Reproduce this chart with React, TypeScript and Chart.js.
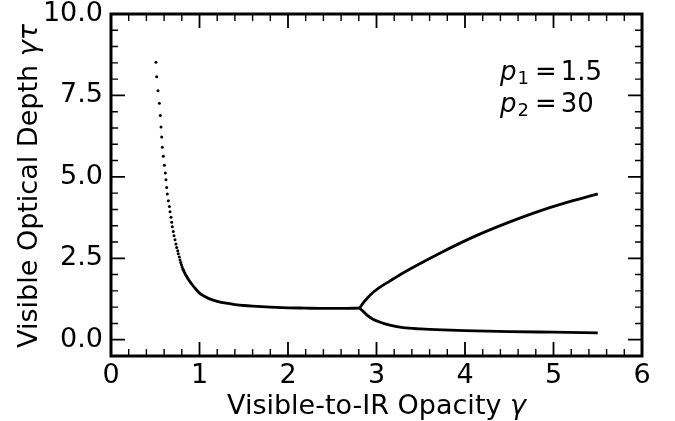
import React, { useEffect, useRef } from "react";
import { Chart, registerables } from "chart.js";

Chart.register(...registerables);

// ---- data ----
// leftmost branch, where individual samples are visible as dots
const sparseGamma = [0.508, 0.516, 0.531, 0.546, 0.557, 0.565, 0.573, 0.580, 0.591, 0.603, 0.614, 0.621, 0.629, 0.636, 0.648, 0.660, 0.667, 0.678, 0.686, 0.693, 0.704, 0.712, 0.723, 0.734, 0.742, 0.754, 0.760, 0.772, 0.780, 0.788, 0.796, 0.804, 0.812];
const sparseDepth = [8.52, 8.07, 7.64, 7.26, 6.88, 6.53, 6.22, 5.91, 5.63, 5.36, 5.12, 4.91, 4.67, 4.47, 4.27, 4.09, 3.93, 3.76, 3.61, 3.47, 3.32, 3.19, 3.07, 2.94, 2.83, 2.73, 2.64, 2.54, 2.45, 2.37, 2.30, 2.23, 2.17];

// dense single branch
const mainGamma = [0.812, 0.825, 0.84, 0.855, 0.87, 0.89, 0.92, 0.96, 1.00, 1.05, 1.10, 1.20, 1.30, 1.40, 1.50, 1.60, 1.80, 2.00, 2.20, 2.40, 2.60, 2.81];
const mainDepth = [2.17, 2.09, 2.01, 1.94, 1.87, 1.79, 1.68, 1.55, 1.43, 1.34, 1.27, 1.18, 1.12, 1.08, 1.05, 1.03, 1.00, 0.98, 0.97, 0.96, 0.96, 0.97];

// upper branch after bifurcation
const upperGamma = [2.81, 2.85, 2.90, 2.96, 3.05, 3.15, 3.30, 3.50, 3.71, 4.09, 4.47, 4.84, 5.22, 5.50];
const upperDepth = [0.97, 1.13, 1.29, 1.45, 1.63, 1.80, 2.05, 2.35, 2.65, 3.15, 3.58, 3.95, 4.27, 4.48];

// lower branch after bifurcation
const lowerGamma = [2.81, 2.85, 2.90, 2.96, 3.05, 3.15, 3.30, 3.50, 3.75, 4.00, 4.50, 5.00, 5.50];
const lowerDepth = [0.97, 0.87, 0.74, 0.63, 0.53, 0.45, 0.37, 0.33, 0.30, 0.28, 0.25, 0.23, 0.21];

// axes
const xTickValues = [0, 1, 2, 3, 4, 5, 6];
const yTickValues = [0, 2.5, 5, 7.5, 10];
const xMin = 0, xMax = 6, yMin = -0.5, yMax = 10;
const xMinorStep = 0.2;
const yMinorStep = 0.5;

const xTitleText = "Visible-to-IR Opacity ";
const xTitleSymbol = "γ";
const yTitleText = "Visible Optical Depth ";
const yTitleSymbol = "γτ";

const annotationRows = [
  { symbol: "p", sub: "1", value: "1.5" },
  { symbol: "p", sub: "2", value: "30" },
];

const FAMILY = "'DejaVu Sans', sans-serif";
const TICK_SIZE = 27;
const TITLE_SIZE = 27;
const NOTE_SIZE = 26;

function pts(xs: number[], ys: number[]) {
  return xs.map((x, i) => ({ x, y: ys[i] }));
}

type Seg = { text: string; font: string; dy?: number; gap?: number };

function segWidth(ctx: CanvasRenderingContext2D, segs: Seg[]) {
  let w = 0;
  for (const s of segs) {
    ctx.font = s.font;
    w += ctx.measureText(s.text).width + (s.gap || 0);
  }
  return w;
}

function drawSegs(ctx: CanvasRenderingContext2D, segs: Seg[], x: number, y: number) {
  let cx = x;
  for (const s of segs) {
    ctx.font = s.font;
    ctx.fillText(s.text, cx, y + (s.dy || 0));
    cx += ctx.measureText(s.text).width + (s.gap || 0);
  }
}

const decorPlugin = {
  id: "decor",
  afterDraw(chart: any) {
    const ctx: CanvasRenderingContext2D = chart.ctx;
    const area = chart.chartArea;
    const xs = chart.scales.x;
    const ys = chart.scales.y;
    ctx.save();
    ctx.strokeStyle = "#000";
    ctx.fillStyle = "#000";

    // ticks (inward, all four sides)
    const majorLen = 14, minorLen = 7;
    ctx.lineWidth = 1.8;
    ctx.beginPath();
    for (const t of xs.ticks) {
      const p = xs.getPixelForValue(t.value);
      ctx.moveTo(p, area.bottom); ctx.lineTo(p, area.bottom - majorLen);
      ctx.moveTo(p, area.top); ctx.lineTo(p, area.top + majorLen);
    }
    for (const t of ys.ticks) {
      const p = ys.getPixelForValue(t.value);
      ctx.moveTo(area.left, p); ctx.lineTo(area.left + majorLen, p);
      ctx.moveTo(area.right, p); ctx.lineTo(area.right - majorLen, p);
    }
    ctx.stroke();
    ctx.lineWidth = 1.4;
    ctx.beginPath();
    const nx = Math.round((xMax - xMin) / xMinorStep);
    for (let i = 1; i < nx; i++) {
      const v = xMin + i * xMinorStep;
      if (xTickValues.some((m) => Math.abs(m - v) < 1e-6)) continue;
      const p = xs.getPixelForValue(v);
      ctx.moveTo(p, area.bottom); ctx.lineTo(p, area.bottom - minorLen);
      ctx.moveTo(p, area.top); ctx.lineTo(p, area.top + minorLen);
    }
    const ny = Math.round((yMax - yMin) / yMinorStep);
    for (let i = 1; i < ny; i++) {
      const v = yMin + i * yMinorStep;
      if (yTickValues.some((m) => Math.abs(m - v) < 1e-6)) continue;
      const p = ys.getPixelForValue(v);
      ctx.moveTo(area.left, p); ctx.lineTo(area.left + minorLen, p);
      ctx.moveTo(area.right, p); ctx.lineTo(area.right - minorLen, p);
    }
    ctx.stroke();

    // frame
    ctx.lineWidth = 3;
    ctx.strokeRect(area.left, area.top, area.right - area.left, area.bottom - area.top);

    // axis titles
    ctx.textBaseline = "alphabetic";
    ctx.textAlign = "left";
    const xSegs: Seg[] = [
      { text: xTitleText, font: `${TITLE_SIZE}px ${FAMILY}` },
      { text: xTitleSymbol, font: `italic ${TITLE_SIZE}px ${FAMILY}` },
    ];
    const xw = segWidth(ctx, xSegs);
    drawSegs(ctx, xSegs, (area.left + area.right) / 2 - xw / 2, 414);

    const ySegs: Seg[] = [
      { text: yTitleText, font: `${TITLE_SIZE}px ${FAMILY}` },
      { text: yTitleSymbol, font: `italic ${TITLE_SIZE}px ${FAMILY}` },
    ];
    const yw = segWidth(ctx, ySegs);
    ctx.save();
    ctx.translate(37, (area.top + area.bottom) / 2 + 1);
    ctx.rotate(-Math.PI / 2);
    drawSegs(ctx, ySegs, -yw / 2, 0);
    ctx.restore();

    // annotation
    annotationRows.forEach((r, i) => {
      const segs: Seg[] = [
        { text: r.symbol, font: `italic ${NOTE_SIZE}px ${FAMILY}`, gap: 1 },
        { text: r.sub, font: `${Math.round(NOTE_SIZE * 0.7)}px ${FAMILY}`, dy: 4, gap: 6 },
        { text: "=", font: `${NOTE_SIZE}px ${FAMILY}`, gap: 4 },
        { text: r.value, font: `${NOTE_SIZE}px ${FAMILY}` },
      ];
      drawSegs(ctx, segs, 500, 80 + i * 32);
    });

    ctx.restore();
  },
};

export default function App() {
  const ref = useRef<HTMLCanvasElement | null>(null);

  useEffect(() => {
    if (!ref.current) return;
    const chart = new Chart(ref.current, {
      type: "scatter",
      data: {
        datasets: [
          {
            data: pts(sparseGamma, sparseDepth),
            showLine: false,
            pointRadius: 1.5,
            pointBorderWidth: 0,
            pointBackgroundColor: "#000",
            borderColor: "#000",
            backgroundColor: "#000",
          },
          {
            data: pts(mainGamma, mainDepth),
            showLine: true,
            pointRadius: 0,
            borderWidth: 2.8,
            borderColor: "#000",
            cubicInterpolationMode: "monotone",
          },
          {
            data: pts(upperGamma, upperDepth),
            showLine: true,
            pointRadius: 0,
            borderWidth: 2.8,
            borderColor: "#000",
            cubicInterpolationMode: "monotone",
          },
          {
            data: pts(lowerGamma, lowerDepth),
            showLine: true,
            pointRadius: 0,
            borderWidth: 2.8,
            borderColor: "#000",
            cubicInterpolationMode: "monotone",
          },
        ],
      },
      options: {
        animation: false,
        responsive: false,
        maintainAspectRatio: false,
        layout: { padding: { top: 14, right: 33, left: 0, bottom: 0 } },
        plugins: { legend: { display: false }, tooltip: { enabled: false } },
        scales: {
          x: {
            type: "linear",
            min: xMin,
            max: xMax,
            grid: { display: false, drawTicks: false },
            border: { display: false },
            afterBuildTicks: (s: any) => { s.ticks = xTickValues.map((v) => ({ value: v })); },
            afterFit: (s: any) => { s.height = 65; s.paddingLeft = 0; s.paddingRight = 0; },
            ticks: {
              color: "#000",
              padding: 4,
              maxRotation: 0,
              font: { family: FAMILY, size: TICK_SIZE },
              callback: (v: any) => String(v),
            },
          },
          y: {
            type: "linear",
            min: yMin,
            max: yMax,
            grid: { display: false, drawTicks: false },
            border: { display: false },
            afterBuildTicks: (s: any) => { s.ticks = yTickValues.map((v) => ({ value: v })); },
            afterFit: (s: any) => { s.width = 111; s.paddingTop = 0; s.paddingBottom = 0; },
            ticks: {
              color: "#000",
              padding: 8,
              font: { family: FAMILY, size: TICK_SIZE },
              callback: (v: any) => Number(v).toFixed(1),
            },
          },
        },
      },
      plugins: [decorPlugin],
    } as any);
    return () => chart.destroy();
  }, []);

  return (
    <div style={{ position: "fixed", left: 0, top: 0, width: 675, height: 421, background: "#fff" }}>
      <canvas ref={ref} width={675} height={421} style={{ display: "block", width: 675, height: 421 }} />
    </div>
  );
}
